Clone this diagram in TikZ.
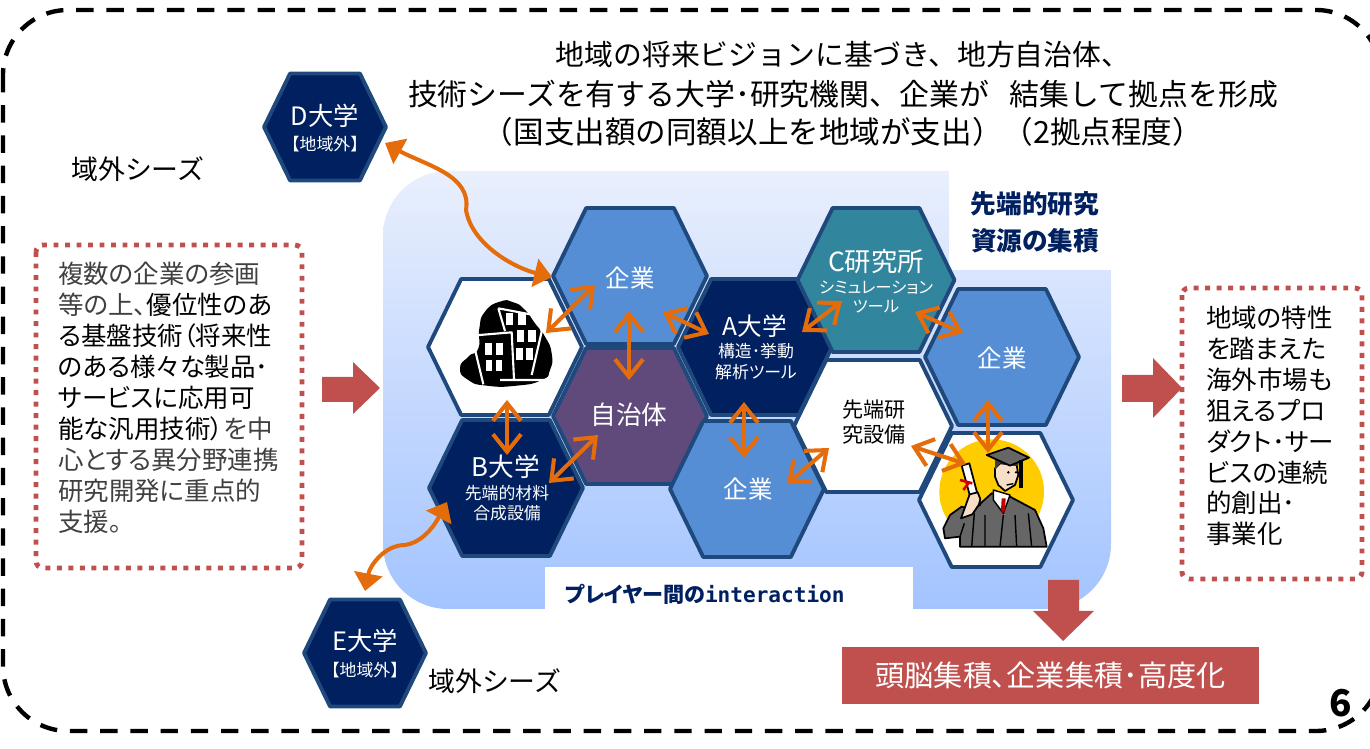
\documentclass[tikz,border=0pt]{standalone}
\usepackage{fontspec}
\setmainfont[RawFeature=+palt]{Noto Sans CJK JP}
\newfontfamily\fullcjk{Noto Sans CJK JP}
\newfontfamily\latinmono{DejaVu Sans Mono}
\usetikzlibrary{shapes.symbols,arrows.meta}
\definecolor{hexline}{HTML}{1F497D}
\definecolor{navy}{HTML}{002060}
\definecolor{firmblue}{HTML}{558ED5}
\definecolor{plum}{HTML}{604A7B}
\definecolor{tealcell}{HTML}{31859C}
\definecolor{brick}{HTML}{C0504D}
\definecolor{tangerine}{HTML}{E46C0A}
\definecolor{fieldtop}{HTML}{E9EFFD}
\definecolor{fieldbot}{HTML}{A3C4FF}
\definecolor{sunyellow}{HTML}{FFCC00}
\definecolor{skin}{HTML}{F8E0C8}
\newcommand{\fs}[1]{\fontsize{#1}{1.2\dimexpr#1pt\relax}\selectfont}
\tikzset{
	hexcell/.style={signal,signal to=east and west,signal pointer angle=128,draw=hexline,line width=2.2pt,inner sep=0pt,outer sep=0pt},
	celltext/.style={text=white,align=center,inner sep=0pt},
	swaparrow/.style={draw=tangerine,line width=2.3pt,{Straight Barb[length=10pt,width=16pt]}-{Straight Barb[length=10pt,width=16pt]}},
	seedlink/.style={draw=tangerine,line width=2.3pt,{Triangle[length=10pt,width=16pt]}-{Triangle[length=10pt,width=16pt]}},
	dotbox/.style={draw=brick,line width=2.8pt,dash pattern=on 2.8pt off 3.75pt,rounded corners=4pt},
	blockarrow/.style={fill=brick,draw=none},
	plainlabel/.style={inner sep=0pt,align=left}
}

\begin{document}
\begin{tikzpicture}[x=0.02cm,y=-0.02cm,line join=round]
	\clip (0,0) rectangle (1370,749);
	% outer frame
	\draw[line width=2.5pt,dash pattern=on 9.9pt off 7.3pt,rounded corners=1.3cm] (3,10) rectangle (1381,731);
	% shaded field behind the cells
	\shade[rounded corners=1.3cm,top color=fieldtop,bottom color=fieldbot] (383,171) rectangle (1111,609);
	\fill[white] (949,165) rectangle (1125,270);
	\fill[white] (545,567) rectangle (913,615);
	% cells
	\foreach \n/\x/\y/\w/\h/\c in {
		bldg/505/347/3.08/2.72/white,
		firmA/630/276/3.08/2.72/firmblue,
		gov/630/416/3.08/2.72/plum,
		univB/506/488/3.08/2.72/navy,
		univA/755/347/3.08/2.72/navy,
		firmB/747/489/3.08/2.72/firmblue,
		equip/873/426/3.16/2.64/white,
		lab/876/280/3.14/2.88/tealcell,
		firmC/1002/357/3.08/2.72/firmblue,
		grad/996/500/3.08/2.68/white,
		univD/325/127/2.44/2.14/navy,
		univE/365/653/2.44/2.14/navy}
		\node[hexcell,fill=\c,minimum width=\w cm,minimum height=\h cm] (\n) at (\x,\y) {};
	% cell labels
	\node[celltext,font=\fs{13.9}] (firmAtxt) at (630,278) {企業};
	\node[celltext,font=\fs{13.9}] (firmBtxt) at (748,489) {企業};
	\node[celltext,font=\fs{13.9}] (firmCtxt) at (1002,358) {企業};
	\node[celltext,font=\fs{14.6}] (govtxt) at (629,415) {自治体};
	\node[celltext,font=\fs{14}] (univAtxt) at (755,326) {A大学};
	\node[celltext,font=\fs{9.6}] (univAsub) at (756,361.5) {構造･挙動\\解析ツール};
	\node[celltext,font=\fs{14.6}] (univBtxt) at (506,467) {B大学};
	\node[celltext,font=\fs{9.6}] (univBsub) at (507,503) {先端的材料\\合成設備};
	\node[celltext,font=\fs{15}] (labtxt) at (876,262) {C研究所};
	\node[celltext,font=\fs{9.3}] (labsub) at (876,297) {シミュレーション\\ツール};
	\node[celltext,text=black,font=\fs{12}] (equiptxt) at (874,422) {先端研\\究設備};
	\node[celltext,font=\fs{14.4}] (univDtxt) at (325,116) {D大学};
	\node[celltext,font=\fullcjk\fs{9.6}] (univDsub) at (325,144) {【地域外】};
	\node[celltext,font=\fs{14.4}] (univEtxt) at (365,641) {E大学};
	\node[celltext,font=\fullcjk\fs{9.6}] (univEsub) at (365,670) {【地域外】};
	% company building
	\begin{scope}[shift={(450,295)},scale=1/3]
		\fill[black] plot[smooth cycle,tension=1] coordinates {(150,20) (190,22) (225,45) (255,85) (285,125) (305,175) (300,225) (275,255) (200,272) (110,272) (55,255) (30,220) (55,185) (85,160) (88,100) (105,50)};
		\draw[white,line width=1.2pt] (100,268)--(65,122)--(185,112)--(192,252) (145,40)--(165,108) (145,40)--(262,62)--(275,110)--(245,240) (150,255)--(310,255);
		\foreach \wx/\wy/\wa/\wb in {168/55/190/90,205/55/228/90,200/105/222/140,235/105/258/140,197/160/218/195,228/160/250/195,105/145/125/180,138/145/158/180,107/195/127/228,137/195/157/228}
			\fill[white] (\wx,\wy) rectangle (\wa,\wb);
	\end{scope}
	% graduate
	\begin{scope}[shift={(935,435)},scale=1/3]
		\fill[sunyellow] (170,170) circle (157);
		\draw[black,fill=black!60,line width=1pt] (75,335)--(75,305)--(30,310)--(25,280)--(45,240)--(80,215)--(115,225)--(170,175)--(225,185)--(300,225)--(325,280)--(335,335)--cycle;
		\draw[black,line width=0.8pt] (110,335)--(118,235) (150,335)--(150,240) (195,335)--(205,240) (245,335)--(240,240) (290,335)--(280,235) (75,305)--(88,265);
		\draw[black,fill=white,line width=0.8pt] (175,165)--(225,180)--(205,235)--(175,195)--cycle;
		\fill[red!75!black] (200,190)--(212,190)--(210,225)--(203,235)--(198,225)--cycle;
		\draw[black,fill=skin,line width=1pt] (180,100)--(195,85)--(245,90)--(250,120)--(240,150)--(210,168)--(190,150)--(180,125)--cycle;
		\draw[black,fill=white,line width=1pt] (80,92)--(103,85)--(136,210)--(114,216)--cycle;
		\draw[black,fill=skin,line width=1pt] (78,250)--(104,178)--(128,172)--(136,192)--(132,208)--(112,238)--cycle;
		\draw[red!85!black,line width=1.5pt] (75,135)--(112,145) (85,165)--(100,145);
		\fill[black] (220,112) circle (4) (243,112) circle (4);
		\draw[black,line width=0.8pt] (215,150)--(235,146);
		\fill[black!75] (180,70)--(180,105)--(195,85)--(250,92)--(252,72)--(215,55)--cycle;
		\draw[black,fill=black!60,line width=1pt] (155,60)--(220,38)--(282,68)--(225,92)--cycle;
		\draw[black,line width=1.8pt] (258,75)--(258,158);
	\end{scope}
	% exchanges between cells
	\draw[swaparrow] ([shift={(-35,9)}]firmA.center) -- ([shift={(41,-14)}]bldg.center);
	\draw[swaparrow] ([shift={(-1,35)}]firmA.center) -- ([shift={(-1,-36)}]gov.center);
	\draw[swaparrow] ([shift={(33,36)}]firmA.center) -- ([shift={(-46,-13)}]univA.center);
	\draw[swaparrow] ([shift={(-34,21)}]lab.center) -- ([shift={(47,-15)}]univA.center);
	\draw[swaparrow] ([shift={(39,32)}]lab.center) -- ([shift={(-39,-24)}]firmC.center);
	\draw[swaparrow] ([shift={(-14,43)}]firmC.center) -- ([shift={(-8,-47)}]grad.center);
	\draw[swaparrow] ([shift={(38,20)}]equip.center) -- ([shift={(-30,-36)}]grad.center);
	\draw[swaparrow] ([shift={(-44,22)}]equip.center) -- ([shift={(40,-5)}]firmB.center);
	\draw[swaparrow] ([shift={(-11,55)}]univA.center) -- ([shift={(-3,-31)}]firmB.center);
	\draw[swaparrow] ([shift={(2,53)}]bldg.center) -- ([shift={(1,-33)}]univB.center);
	\draw[swaparrow] ([shift={(-32,19)}]gov.center) -- ([shift={(43,-5)}]univB.center);
	\draw[seedlink] ([shift={(60,16)}]univD.center) .. controls (425,165) and (472,175) .. (466,210) .. controls (472,245) and (515,268) .. ([shift={(-78,1)}]firmA.center);
	\draw[seedlink] ([shift={(-59,14)}]univB.center) .. controls (432,530) and (420,543) .. (405,545) .. controls (385,545) and (370,565) .. ([shift={(0,-62)}]univE.center);
	% red block arrows
	\fill[blockarrow] (322,377)--(353,377)--(353,362)--(380,388)--(353,414)--(353,402)--(322,402)--cycle;
	\fill[blockarrow] (1122,375)--(1153,375)--(1153,358)--(1182,388)--(1153,418)--(1153,402)--(1122,402)--cycle;
	\fill[blockarrow] (1048,580)--(1079,580)--(1079,611)--(1094,611)--(1063,641)--(1033,611)--(1048,611)--cycle;
	% text boxes
	\draw[dotbox] (36,245) rectangle (302,568);
	\draw[dotbox] (1182,288) rectangle (1362,579);
	\node[plainlabel,anchor=west,text=black!75,font=\fontsize{14.5}{17.6}\selectfont] (leftnote) at (58,398) {複数の企業の参画\\等の上、\textcolor{black}{優位性のあ}\\\textcolor{black}{る基盤技術（将来性}\\\textcolor{black}{のある様々な製品･}\\\textcolor{black}{サービスに応用可}\\\textcolor{black}{能な汎用技術）}を中\\心とする異分野連携\\研究開発に重点的\\支援。};
	\node[plainlabel,anchor=west,font=\fontsize{14.5}{17.6}\selectfont] (rightnote) at (1206,426) {地域の特性\\を踏まえた\\海外市場も\\狙えるプロ\\ダクト･サー\\ビスの連続\\的創出･\\事業化};
	% headings
	\node[inner sep=0pt,font=\fullcjk\fs{16.4}] (titleA) at (843,55) {地域の将来ビジョンに基づき、地方自治体、};
	\node[inner sep=0pt,font=\fullcjk\fs{17}] (titleB) at (843,94) {技術シーズを有する大学･研究機関、企業が\hspace{0.7em}結集して拠点を形成};
	\node[inner sep=0pt,font=\fullcjk\fs{17.4}] (titleC) at (843,132) {（国支出額の同額以上を地域が支出）（2拠点程度）};
	\node[plainlabel,anchor=west,font=\fullcjk\fs{15.3}] (seedsA) at (71,169) {域外シーズ};
	\node[plainlabel,anchor=west,font=\fullcjk\fs{15.3}] (seedsB) at (428,681) {域外シーズ};
	\node[inner sep=0pt,align=center,text=navy,font=\bfseries\fontsize{14.6}{21}\selectfont] (resource) at (1035,222) {先端的研究\\資源の集積};
	\node[inner sep=0pt,text=navy,font=\bfseries\fs{12}] (interact) at (705,594) {プレイヤー間の{\latinmono\bfseries interaction}};
	\node[fill=brick,text=white,inner sep=0pt,minimum width=8.34cm,minimum height=1.14cm,font=\fs{16.6}] (outcome) at (1050.5,675.5) {頭脳集積、企業集積･高度化};
	\node[inner sep=0pt,font=\bfseries\fs{21}] (pageno) at (1341,703) {6};
\end{tikzpicture}
\end{document}
